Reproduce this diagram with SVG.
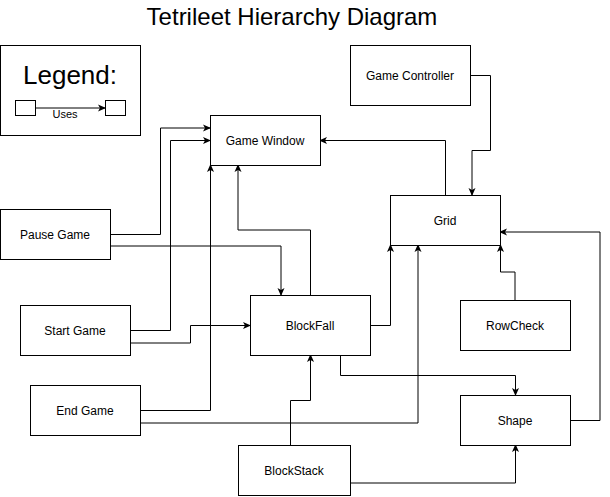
<svg xmlns="http://www.w3.org/2000/svg" width="610" height="497" viewBox="0 0 610 497">
<style>
.n{fill:#fff;stroke:#000;stroke-width:1}
.t{font-family:"Liberation Sans",Arial,sans-serif;font-size:12px;fill:#000;text-anchor:middle;dominant-baseline:central}
.e{fill:none;stroke:#000;stroke-width:1;marker-end:url(#a)}
</style>
<defs>
<marker id="a" viewBox="0 0 8 8" refX="7" refY="4" markerWidth="8" markerHeight="8" markerUnits="userSpaceOnUse" orient="auto">
<path d="M0,0.5 L8,4 L0,7.5 L2,4 Z" fill="#000"/>
</marker>
</defs>
<rect width="610" height="497" fill="#fff"/>
<text x="292" y="16" class="t" style="font-size:24px">Tetrileet Hierarchy Diagram</text>
<g id="legend">
<rect class="n" x="0.5" y="45.5" width="140" height="90"/>
<text x="70" y="84" style="font-family:'Liberation Sans',Arial,sans-serif;font-size:26px;text-anchor:middle">Legend:</text>
<rect class="n" x="15.5" y="100.5" width="20" height="15"/>
<rect class="n" x="105.5" y="100.5" width="20" height="15"/>
<path class="e" d="M35.5,108 H105"/>
<text x="65" y="114" class="t" style="font-size:11px">Uses</text>
</g>
<g id="connectors">
<path class="e" d="M110,234.5 H160.5 V128 H210"/>
<path class="e" d="M130,330.5 H170.5 V140.5 H210"/>
<path class="e" d="M140,410.5 H210.5 V165"/>
<path class="e" d="M310.5,295 V230 H238 V165"/>
<path class="e" d="M110,246 H281 V295"/>
<path class="e" d="M130,343 H190.5 V325.5 H250"/>
<path class="e" d="M445.5,195 V140.5 H320"/>
<path class="e" d="M470,75.5 H490.5 V150.5 H472 V195"/>
<path class="e" d="M370,325.5 H390.5 V245"/>
<path class="e" d="M140,423 H418 V245"/>
<path class="e" d="M515,300 V272 H500.5 V245"/>
<path class="e" d="M570,420.5 H600 V232 H500"/>
<path class="e" d="M340.5,355 V375.5 H515.5 V395"/>
<path class="e" d="M290.5,445 V400.5 H310.5 V355"/>
<path class="e" d="M350,483 H515.5 V445"/>
</g>
<g id="game-controller"><rect class="n" x="350.5" y="45.5" width="120" height="60"/><text x="410" y="76" class="t">Game Controller</text></g>
<g id="game-window"><rect class="n" x="210.5" y="115.5" width="110" height="50"/><text x="265" y="141" class="t">Game Window</text></g>
<g id="grid"><rect class="n" x="390.5" y="195.5" width="110" height="50"/><text x="445" y="221" class="t">Grid</text></g>
<g id="pause-game"><rect class="n" x="0.5" y="209.5" width="110" height="50"/><text x="55" y="235" class="t">Pause Game</text></g>
<g id="start-game"><rect class="n" x="20.5" y="305.5" width="110" height="50"/><text x="75" y="331" class="t">Start Game</text></g>
<g id="blockfall"><rect class="n" x="250.5" y="295.5" width="120" height="60"/><text x="310" y="326" class="t">BlockFall</text></g>
<g id="rowcheck"><rect class="n" x="460.5" y="300.5" width="110" height="50"/><text x="515" y="326" class="t">RowCheck</text></g>
<g id="end-game"><rect class="n" x="30.5" y="385.5" width="110" height="50"/><text x="85" y="411" class="t">End Game</text></g>
<g id="shape"><rect class="n" x="460.5" y="395.5" width="110" height="50"/><text x="515" y="421" class="t">Shape</text></g>
<g id="blockstack"><rect class="n" x="238.5" y="445.5" width="112" height="50"/><text x="294" y="471" class="t">BlockStack</text></g>
</svg>
